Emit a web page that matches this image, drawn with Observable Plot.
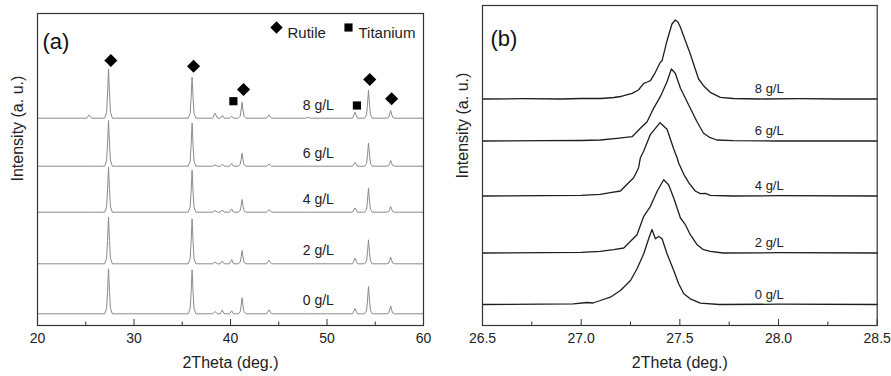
<!DOCTYPE html>
<html><head><meta charset="utf-8">
<script src="https://cdn.jsdelivr.net/npm/d3@7"></script>
<script src="https://cdn.jsdelivr.net/npm/@observablehq/plot@0.6"></script>
<style>
body{margin:0;background:#fff;}
#wrap{display:flex;width:891px;height:376px;overflow:hidden;}
</style></head><body><div id="wrap"></div>
<script>
// ---------- data ----------
const seriesNames = ["0 g/L", "2 g/L", "4 g/L", "6 g/L", "8 g/L"];

// panel (a): full XRD patterns, stacked with offsets (a.u.)
const offsetsA = [11.7, 61.7, 113.3, 159.3, 207.3];
const thetaA = [20,
  25.1, 25.35, 25.6,
  26.96, 27.16, 27.26, 27.36, 27.46, 27.56, 27.76,
  35.62, 35.82, 35.92, 36.02, 36.12, 36.22, 36.42,
  38.15, 38.4, 38.65,
  38.95, 39.15, 39.35,
  39.9, 40.12, 40.3,
  40.8, 41.0, 41.1, 41.2, 41.3, 41.4, 41.6,
  43.75, 44.0, 44.25,
  47.8, 48.05, 48.3,
  52.65, 52.9, 53.15,
  53.9, 54.1, 54.2, 54.3, 54.4, 54.5, 54.7,
  56.2, 56.4, 56.5, 56.6, 56.7, 56.8, 57.0,
  60];
const intA0 = [0, 0,0,0, 0,5.4,22.5,45,22.5,5.4,0, 0,5.3,22,44,22,5.3,0, 0,2.3,0, 0,3.7,0, 0,3,0, 0,1.9,8,16,8,1.9,0, 0,4,0, 0,0,0, 0,5.3,0, 0,3.3,13.7,27.3,13.7,3.3,0, 0,1,3.9,7.7,3.9,1,0, 0];
const intA2 = [0, 0,0,0, 0,5.6,23.4,46.7,23.4,5.6,0, 0,5.4,22.5,45,22.5,5.4,0, 0,1.7,0, 0,2.7,0, 0,4.3,0, 0,1.6,6.7,13.3,6.7,1.6,0, 0,3.7,0, 0,0,0, 0,5.7,0, 0,2.9,12,24,12,2.9,0, 0,0.8,3.4,6.7,3.4,0.8,0, 0];
const intA4 = [0, 0,0,0, 0,5.4,22.5,45,22.5,5.4,0, 0,5,21,42,21,5,0, 0,1.7,0, 0,2.3,0, 0,3.3,0, 0,1.5,6.4,12.7,6.4,1.5,0, 0,2.7,0, 0,0,0, 0,4.3,0, 0,2.9,12,24,12,2.9,0, 0,0.7,2.9,5.7,2.9,0.7,0, 0];
const intA6 = [0, 0,0,0, 0,5.5,23,45.7,23,5.5,0, 0,5.2,21.5,43,21.5,5.2,0, 0,1.3,0, 0,2,0, 0,2.7,0, 0,1.6,6.5,13,6.5,1.6,0, 0,2.3,0, 0,0,0, 0,4,0, 0,2.8,11.5,23,11.5,2.8,0, 0,0.7,2.9,5.7,2.9,0.7,0, 0];
const intA8 = [0, 0,3.3,0, 0,6,25,49,25,6,0, 0,5,21,41,21,5,0, 0,5,0, 0,2.7,0, 0,2,0, 0,2,8,16,8,2,0, 0,3.3,0, 0,1,0, 0,6,0, 0,3.4,14,28,14,3.4,0, 0,1,4,7.7,4,1,0, 0];
const intA = [intA0, intA2, intA4, intA6, intA8];

// phase markers on top pattern
const rutileTheta = [27.6, 36.17, 41.35, 54.43, 56.7];
const rutileY = [265, 259.3, 236, 246, 226.7];
const titaniumTheta = [40.3, 53.1];
const titaniumY = [224.3, 220];

const ticksA = [20, 30, 40, 50, 60];
const minorA = [25, 35, 45, 55];
const labelThetaA = 49.1;

// panel (b): zoom on rutile (110) peak
const offsetsB = [21, 72.5, 129.5, 184.5, 226.5];
const thetaB0 = [26.5, 26.8, 26.96, 27.03, 27.06, 27.097, 27.148, 27.199, 27.25, 27.283, 27.317, 27.342, 27.359, 27.376, 27.393, 27.41, 27.435, 27.469, 27.494, 27.52, 27.553, 27.604, 27.7, 28.0, 28.5];
const intB0   = [0, 0.3, 0.7, 2, 1.5, 4, 7.3, 14, 24, 35.7, 50.7, 65.7, 75, 65.7, 68, 65.7, 50.7, 34, 20.7, 10.7, 5.7, 1.3, 0, 0.3, 0];
const thetaB2 = [26.5, 26.8, 27.0, 27.097, 27.165, 27.216, 27.25, 27.283, 27.317, 27.351, 27.385, 27.418, 27.443, 27.469, 27.503, 27.528, 27.553, 27.587, 27.62, 27.654, 27.72, 28.0, 28.5];
const intB2   = [0, 0.3, 0.7, 1.7, 3.3, 5, 11.7, 18.3, 36.7, 46.7, 61.7, 73.3, 68.3, 55, 35, 28.3, 18.3, 8.3, 3.3, 1.7, 0, 0.3, 0];
const thetaB4 = [26.5, 26.8, 27.0, 27.097, 27.148, 27.199, 27.224, 27.266, 27.291, 27.30, 27.317, 27.351, 27.40, 27.435, 27.469, 27.486, 27.494, 27.52, 27.545, 27.578, 27.604, 27.63, 27.654, 27.77, 28.0, 28.5];
const intB4   = [0, 0.3, 0.7, 1.7, 3.3, 5, 10, 18.3, 28.3, 38.3, 45, 61.7, 73.3, 66.7, 47, 38.3, 33, 21.7, 13.3, 5, 2.3, 2.7, 0.7, 0, 0.3, 0];
const thetaB6 = [26.5, 26.8, 27.0, 27.097, 27.182, 27.258, 27.30, 27.334, 27.367, 27.401, 27.435, 27.457, 27.477, 27.503, 27.528, 27.553, 27.587, 27.62, 27.654, 27.688, 27.77, 28.0, 28.5];
const intB6   = [0, 0.3, 0.5, 1, 2.7, 4.3, 12.7, 19.3, 32.7, 44.3, 59.3, 72, 67.7, 52.7, 42.7, 32.7, 19.3, 7.7, 3.3, 1, 0.3, 0, 0];
const thetaB8 = [26.5, 26.7, 26.9, 27.0, 27.1, 27.165, 27.2, 27.216, 27.258, 27.29, 27.317, 27.335, 27.351, 27.376, 27.401, 27.41, 27.435, 27.46, 27.477, 27.49, 27.503, 27.528, 27.553, 27.578, 27.595, 27.62, 27.654, 27.705, 27.77, 27.9, 28.1, 28.3, 28.5];
const intB8   = [0, 0.3, 0, 0.5, 0.5, 1.5, 2.5, 3.3, 5.7, 9, 15.7, 17, 18.3, 26.7, 36.7, 38.3, 58.3, 75, 79, 77, 71.7, 58.3, 45, 30, 20, 13.3, 6.7, 1.7, 0.5, 0, 0.3, 0, 0];
const thetaB = [thetaB0, thetaB2, thetaB4, thetaB6, thetaB8];
const intB = [intB0, intB2, intB4, intB6, intB8];

const ticksB = [26.5, 27.0, 27.5, 28.0, 28.5];
const minorB = [26.75, 27.25, 27.75, 28.25];
const labelThetaB = 27.953;

// ---------- tables ----------
const rowsA = seriesNames.flatMap((s, i) => thetaA.map((t, j) => ({series: s, theta: t, y: intA[i][j] + offsetsA[i]})));
const rowsB = seriesNames.flatMap((s, i) => thetaB[i].map((t, j) => ({series: s, theta: t, y: intB[i][j] + offsetsB[i]})));
const labelsA = seriesNames.map((s, i) => ({series: s, theta: labelThetaA, y: offsetsA[i]}));
const labelsB = seriesNames.map((s, i) => ({series: s, theta: labelThetaB, y: offsetsB[i]}));
const rutileRows = rutileTheta.map((t, i) => ({theta: t, y: rutileY[i]}));
const titaniumRows = titaniumTheta.map((t, i) => ({theta: t, y: titaniumY[i]}));

const FONT = "'Liberation Sans', Arial, Helvetica, sans-serif";
const H = 376, MB = 51;

// ---------- panel (a) ----------
const mtA = 13, innerA = H - mtA - MB;
const plotA = Plot.plot({
  width: 445, height: H,
  marginLeft: 37, marginRight: 22, marginTop: mtA, marginBottom: MB,
  style: {fontFamily: FONT, color: "#222", background: "white", overflow: "visible"},
  x: {domain: [20, 60]},
  y: {domain: [0, innerA], axis: null},
  marks: [
    Plot.line(rowsA, {x: "theta", y: "y", z: "series", stroke: "#8a8a8a", strokeWidth: 1}),
    Plot.text(labelsA, {x: "theta", y: "y", text: "series", dy: -13, fontSize: 14, fill: "#222"}),
    Plot.dot(rutileRows, {x: "theta", y: "y", symbol: "diamond2", r: 5.9, fill: "black"}),
    Plot.dot(titaniumRows, {x: "theta", y: "y", symbol: "square", r: 4.6, fill: "black"}),
    Plot.ruleX(ticksA, {insetTop: innerA - 6, stroke: "#333"}),
    Plot.ruleX(minorA, {insetTop: innerA - 3.5, stroke: "#333"}),
    Plot.frame({stroke: "#333", strokeWidth: 1.2}),
    Plot.axisX(ticksA, {tickSize: 0, tickPadding: 8, fontSize: 14, label: null, fill: "#222"}),
    Plot.text(["2Theta (deg.)"], {text: d => d, frameAnchor: "bottom", dy: 42, fontSize: 16, fill: "#222"}),
    Plot.text(["Intensity (a. u.)"], {text: d => d, frameAnchor: "left", rotate: -90, dx: -20, dy: 12, fontSize: 16, fill: "#222"}),
    Plot.text(["(a)"], {text: d => d, frameAnchor: "top-left", textAnchor: "start", dx: 5, dy: 20, fontSize: 22, fill: "#111"}),
    Plot.dot(["Rutile"], {frameAnchor: "top-right", dx: -147, dy: 14, symbol: "diamond2", r: 5.6, fill: "black"}),
    Plot.text(["Rutile"], {text: d => d, frameAnchor: "top-right", textAnchor: "start", dx: -136, dy: 14, fontSize: 15, fill: "#222"}),
    Plot.dot(["Titanium"], {frameAnchor: "top-right", dx: -75, dy: 14, symbol: "square", r: 4.6, fill: "black"}),
    Plot.text(["Titanium"], {text: d => d, frameAnchor: "top-right", textAnchor: "start", dx: -65, dy: 14, fontSize: 15, fill: "#222"})
  ]
});

// ---------- panel (b) ----------
const mtB = 5, innerB = H - mtB - MB;
const plotB = Plot.plot({
  width: 446, height: H,
  marginLeft: 37, marginRight: 14.3, marginTop: mtB, marginBottom: MB,
  style: {fontFamily: FONT, color: "#222", background: "white", overflow: "visible"},
  x: {domain: [26.5, 28.5]},
  y: {domain: [0, innerB], axis: null},
  marks: [
    Plot.line(rowsB, {x: "theta", y: "y", z: "series", stroke: "#1e1e1e", strokeWidth: 1.3}),
    Plot.text(labelsB, {x: "theta", y: "y", text: "series", dy: -10, fontSize: 13, fill: "#222"}),
    Plot.ruleX(ticksB, {insetTop: innerB - 6, stroke: "#333"}),
    Plot.ruleX(minorB, {insetTop: innerB - 3.5, stroke: "#333"}),
    Plot.frame({stroke: "#333", strokeWidth: 1.2}),
    Plot.axisX(ticksB, {tickSize: 0, tickPadding: 8, fontSize: 14, label: null, fill: "#222", tickFormat: d3.format(".1f")}),
    Plot.text(["2Theta (deg.)"], {text: d => d, frameAnchor: "bottom", dy: 42, fontSize: 16, fill: "#222"}),
    Plot.text(["Intensity (a. u.)"], {text: d => d, frameAnchor: "left", rotate: -90, dx: -19.5, dy: 13, fontSize: 16, fill: "#222"}),
    Plot.text(["(b)"], {text: d => d, frameAnchor: "top-left", textAnchor: "start", dx: 8, dy: 25, fontSize: 22, fill: "#111"})
  ]
});

document.getElementById("wrap").append(plotA, plotB);
</script></body></html>
